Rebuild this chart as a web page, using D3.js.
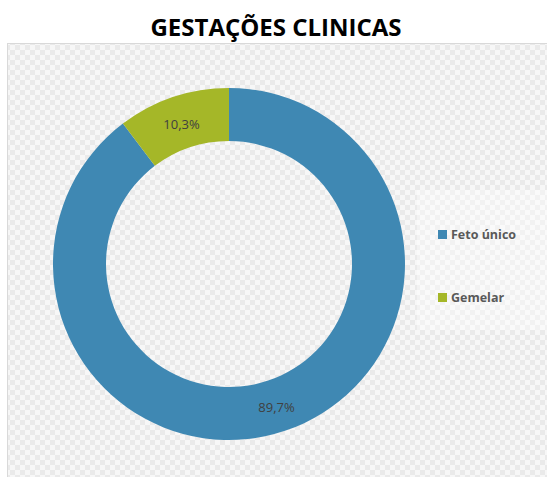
<!DOCTYPE html>
<html>
<head>
<meta charset="utf-8">
<script src="https://cdn.jsdelivr.net/npm/d3@7"></script>
<style>
  body { margin: 0; background: #fff; }
</style>
</head>
<body>
<div id="chart"></div>
<script>
// data
var categories = ["Feto único", "Gemelar"];
var values = [89.7, 10.3];
var labels = ["89,7%", "10,3%"];
var colors = ["#3f88b3", "#a5b728"];

var width = 547, height = 477;
var cx = 229, cy = 264, outerR = 176, innerR = 123;

var svg = d3.select("#chart").append("svg")
    .attr("width", width)
    .attr("height", height);

// checker pattern for the plot background
var defs = svg.append("defs");
var pat = defs.append("pattern")
    .attr("id", "checker")
    .attr("patternUnits", "userSpaceOnUse")
    .attr("width", 10).attr("height", 10);
pat.append("rect").attr("width", 10).attr("height", 10).attr("fill", "#f7f7f7");
pat.append("rect").attr("width", 5).attr("height", 5).attr("fill", "#eaeaea");
pat.append("rect").attr("x", 5).attr("y", 5).attr("width", 5).attr("height", 5).attr("fill", "#eaeaea");

svg.append("rect")
    .attr("x", 7.5).attr("y", 43.5)
    .attr("width", 560).attr("height", 450)
    .attr("fill", "url(#checker)")
    .attr("stroke", "#d9d9d9");

// legend backdrop
svg.append("rect")
    .attr("x", 417).attr("y", 190)
    .attr("width", 130).attr("height", 140)
    .attr("fill", "#fff").attr("opacity", 0.4);

svg.append("text")
    .attr("x", 276).attr("y", 36)
    .attr("text-anchor", "middle")
    .attr("font-family", "Open Sans")
    .attr("font-weight", "bold")
    .attr("font-size", 24)
    .attr("fill", "#000")
    .text("GESTAÇÕES CLINICAS");

var pie = d3.pie().sort(null).value(function(d){ return d; });
var arcs = pie(values);
var arc = d3.arc().innerRadius(innerR).outerRadius(outerR);

var g = svg.append("g").attr("transform", "translate(" + cx + "," + cy + ")");

g.selectAll("path")
    .data(arcs)
    .enter().append("path")
    .attr("d", arc)
    .attr("fill", function(d, i){ return colors[i]; });

var labelArc = d3.arc().innerRadius((innerR + outerR) / 2).outerRadius((innerR + outerR) / 2);
g.selectAll("text.lbl")
    .data(arcs)
    .enter().append("text")
    .attr("class", "lbl")
    .attr("transform", function(d, i){
        var c = labelArc.centroid(d);
        return "translate(" + c[0] + "," + (c[1] + 2) + ")";
    })
    .attr("dy", "0.35em")
    .attr("text-anchor", "middle")
    .attr("font-family", "Open Sans")
    .attr("font-size", 13)
    .attr("fill", "#404040")
    .text(function(d, i){ return labels[i]; });

// legend
var legend = svg.append("g");
categories.forEach(function(c, i){
    var ly = 230 + i * 63;
    legend.append("rect")
        .attr("x", 438).attr("y", ly)
        .attr("width", 9).attr("height", 9)
        .attr("fill", colors[i]);
    legend.append("text")
        .attr("x", 451).attr("y", ly + 9)
        .attr("font-family", "Open Sans")
        .attr("font-weight", "bold")
        .attr("font-size", 12.5)
        .attr("fill", "#595959")
        .text(c);
});
</script>
</body>
</html>
